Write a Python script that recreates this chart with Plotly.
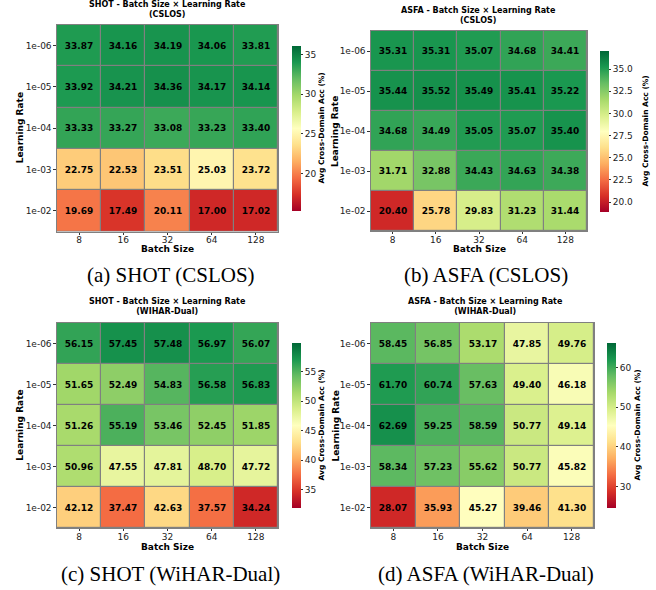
import plotly.graph_objects as go

batch_sizes = ["8", "16", "32", "64", "128"]
learning_rates = ["1e-06", "1e-05", "1e-04", "1e-03", "1e-02"]

shot_cslos = [
    [33.87, 34.16, 34.19, 34.06, 33.81],
    [33.92, 34.21, 34.36, 34.17, 34.14],
    [33.33, 33.27, 33.08, 33.23, 33.40],
    [22.75, 22.53, 23.51, 25.03, 23.72],
    [19.69, 17.49, 20.11, 17.00, 17.02],
]
asfa_cslos = [
    [35.31, 35.31, 35.07, 34.68, 34.41],
    [35.44, 35.52, 35.49, 35.41, 35.22],
    [34.68, 34.49, 35.05, 35.07, 35.40],
    [31.71, 32.88, 34.43, 34.63, 34.38],
    [20.40, 25.78, 29.83, 31.23, 31.44],
]
shot_wihar = [
    [56.15, 57.45, 57.48, 56.97, 56.07],
    [51.65, 52.49, 54.83, 56.58, 56.83],
    [51.26, 55.19, 53.46, 52.45, 51.85],
    [50.96, 47.55, 47.81, 48.70, 47.72],
    [42.12, 37.47, 42.63, 37.57, 34.24],
]
asfa_wihar = [
    [58.45, 56.85, 53.17, 47.85, 49.76],
    [61.70, 60.74, 57.63, 49.40, 46.18],
    [62.69, 59.25, 58.59, 50.77, 49.14],
    [58.34, 57.23, 55.62, 50.77, 45.82],
    [28.07, 35.93, 45.27, 39.46, 41.30],
]

panel_titles = [
    "SHOT - Batch Size × Learning Rate<br>(CSLOS)",
    "ASFA - Batch Size × Learning Rate<br>(CSLOS)",
    "SHOT - Batch Size × Learning Rate<br>(WIHAR-Dual)",
    "ASFA - Batch Size × Learning Rate<br>(WIHAR-Dual)",
]
captions = ["(a) SHOT (CSLOS)", "(b) ASFA (CSLOS)", "(c) SHOT (WiHAR-Dual)", "(d) ASFA (WiHAR-Dual)"]
cbar_title = "Avg Cross-Domain Acc (%)"

W, H = 656, 590
FONT = "DejaVu Sans"

def fx(px):
    return px / W

def fy(px):
    return 1 - px / H

panels = [
    dict(z=shot_cslos, box=(57, 278, 25, 231.5), cb=(292, 46, 211), dtick=5, fmt="d", cbt=321,
         lab_y=249.5, lr_x=20, cap=(170.5, 275), ttl=(167.5, 10)),
    dict(z=asfa_cslos, box=(371, 587, 31, 231), cb=(600, 51, 212), dtick=2.5, fmt=".1f", cbt=645,
         lab_y=249.5, lr_x=335, cap=(485.5, 275), ttl=(478, 15.5)),
    dict(z=shot_wihar, box=(57, 278, 323, 528.3), cb=(292, 343, 508), dtick=5, fmt="d", cbt=321,
         lab_y=546.5, lr_x=20, cap=(170.5, 574), ttl=(167.5, 306.5)),
    dict(z=asfa_wihar, box=(371, 594, 323, 528), cb=(607, 343, 508), dtick=10, fmt="d", cbt=637,
         lab_y=546.5, lr_x=335, cap=(485.5, 574), ttl=(485, 306.5)),
]

fig = go.Figure()
annotations = []
layout_axes = {}

for i, p in enumerate(panels):
    n = "" if i == 0 else str(i + 1)
    x0, x1, y0, y1 = p["box"]
    zs = [v for row in p["z"] for v in row]
    lo, hi = min(zs), max(zs)
    pad = 0.1 * (hi - lo)
    cbx, cby0, cby1 = p["cb"]
    fig.add_trace(go.Heatmap(
        z=p["z"], x=batch_sizes, y=learning_rates,
        xaxis="x" + n, yaxis="y" + n,
        colorscale="RdYlGn", zmin=lo - pad, zmax=hi + pad,
        xgap=1.2, ygap=1.2,
        texttemplate="<b>%{z:.2f}</b>",
        textfont=dict(family=FONT, size=9, color="black"),
        hoverinfo="skip",
        colorbar=dict(
            x=fx(cbx), xanchor="left", xref="paper",
            y=fy(cby0), yanchor="top", yref="paper",
            len=(cby1 - cby0) / H, lenmode="fraction",
            thickness=8.5, thicknessmode="pixels",
            xpad=0, ypad=0, outlinewidth=0,
            ticks="outside", ticklen=2.5, tickwidth=0.8, tickcolor="#333",
            dtick=p["dtick"], tick0=0, tickformat=p["fmt"],
            tickfont=dict(family=FONT, size=9, color="#222"),
        ),
    ))
    layout_axes["xaxis" + n] = dict(
        domain=[fx(x0), fx(x1)], anchor="y" + n, type="category",
        showgrid=False, zeroline=False,
        showline=True, mirror=True, linecolor="#808080", linewidth=1.2,
        ticks="outside", ticklen=2, tickcolor="#333", tickwidth=0.8,
        ticklabelstandoff=-2,
        tickfont=dict(family=FONT, size=9, color="#222"),
    )
    layout_axes["yaxis" + n] = dict(
        domain=[fy(y1), fy(y0)], anchor="x" + n, type="category",
        autorange="reversed",
        showgrid=False, zeroline=False,
        showline=True, mirror=True, linecolor="#808080", linewidth=1.2,
        ticks="outside", ticklen=2.5, tickcolor="#333", tickwidth=0.8,
        tickfont=dict(family=FONT, size=9, color="#222"),
    )
    annotations.append(dict(
        text="<b>" + panel_titles[i] + "</b>", x=fx(p["ttl"][0]), y=fy(p["ttl"][1]),
        xref="paper", yref="paper", showarrow=False, xanchor="center", yanchor="middle",
        font=dict(family=FONT, size=8, color="black"),
    ))
    annotations.append(dict(
        text="<b>Batch Size</b>", x=fx((x0 + x1) / 2), y=fy(p["lab_y"]),
        xref="paper", yref="paper", showarrow=False, xanchor="center", yanchor="middle",
        font=dict(family=FONT, size=9, color="black"),
    ))
    annotations.append(dict(
        text="<b>Learning Rate</b>", x=fx(p["lr_x"]), y=fy((y0 + y1) / 2),
        xref="paper", yref="paper", showarrow=False, xanchor="center", yanchor="middle",
        textangle=-90, font=dict(family=FONT, size=9, color="black"),
    ))
    annotations.append(dict(
        text="<b>" + cbar_title + "</b>", x=fx(p["cbt"]), y=fy((cby0 + cby1) / 2),
        xref="paper", yref="paper", showarrow=False, xanchor="center", yanchor="middle",
        textangle=-90, font=dict(family=FONT, size=7.5, color="black"),
    ))
    annotations.append(dict(
        text=captions[i], x=fx(p["cap"][0]), y=fy(p["cap"][1]),
        xref="paper", yref="paper", showarrow=False, xanchor="center", yanchor="middle",
        font=dict(family="Liberation Serif", size=21, color="black"),
    ))

fig.update_layout(
    width=W, height=H,
    margin=dict(l=0, r=0, t=0, b=0),
    paper_bgcolor="white", plot_bgcolor="#808080",
    annotations=annotations,
    showlegend=False,
    **layout_axes,
)

fig.write_html(
    "out.html",
    config={"displayModeBar": False},
    post_script="document.body.style.margin='0px';document.body.style.padding='0px';document.body.style.overflow='hidden';",
)
